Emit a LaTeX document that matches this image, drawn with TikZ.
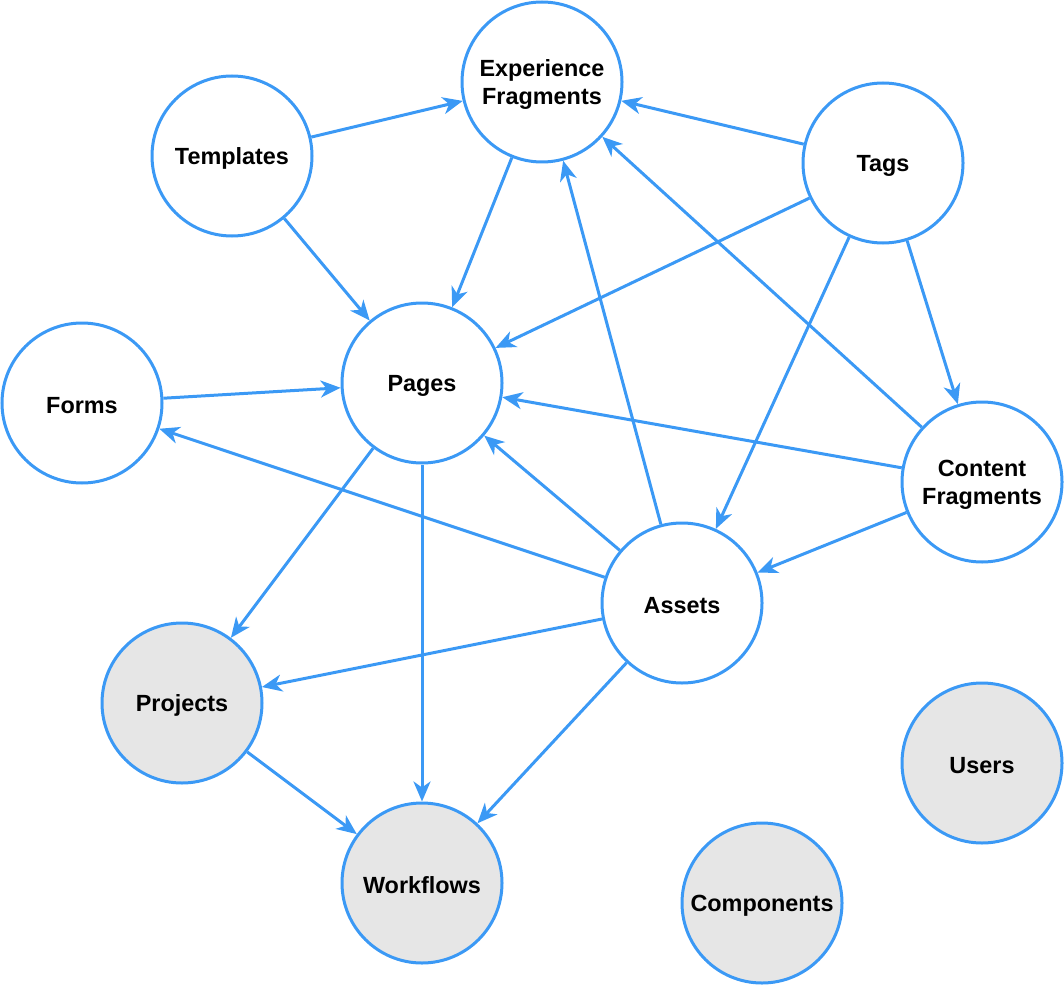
\documentclass[tikz,border=0pt]{standalone}
\usepackage{fontspec}
\setmainfont{Liberation Sans}
\usetikzlibrary{arrows.meta}
\definecolor{edgeblue}{RGB}{59,153,245}
\definecolor{nodegray}{RGB}{230,230,230}
\begin{document}
\begin{tikzpicture}[x=1pt,y=-1pt,
  lbl/.style={font=\fontsize{23.4}{28}\selectfont\bfseries, align=center, text=black, inner sep=0pt, yshift=-2.5pt},
  ent/.style={circle, draw=edgeblue, line width=3pt, fill=white, minimum size=160pt, inner sep=0pt,
    label={[lbl]center:#1}},
  grayent/.style={ent=#1, fill=nodegray},
  rel/.style={draw=edgeblue, line width=3pt, -{Stealth[length=20pt,width=17pt,inset=6pt]}}]
\useasboundingbox (0,0) rectangle (1064,984);
\node[ent={Experience\\Fragments}] (ef) at (542,82) {};
\node[ent={Templates}] (tpl) at (232,156) {};
\node[ent={Tags}] (tags) at (883,163) {};
\node[ent={Forms}] (forms) at (82,403) {};
\node[ent={Pages}] (pages) at (422,383) {};
\node[ent={Content\\Fragments}] (cf) at (982,482) {};
\node[ent={Assets}] (assets) at (682,603) {};
\node[grayent={Projects}] (proj) at (182,703) {};
\node[grayent={Users}] (users) at (982,763) {};
\node[grayent={Workflows}] (wf) at (422,883) {};
\node[grayent={Components}] (comp) at (762,903) {};

\draw[rel] (tpl) -- (ef);
\draw[rel] (tpl) -- (pages);
\draw[rel] (ef) -- (pages);
\draw[rel] (tags) -- (ef);
\draw[rel] (tags) -- (pages);
\draw[rel] (tags) -- (assets);
\draw[rel] (tags) -- (cf);
\draw[rel] (cf) -- (ef);
\draw[rel] (cf) -- (pages);
\draw[rel] (cf) -- (assets);
\draw[rel] (assets) -- (ef);
\draw[rel] (assets) -- (pages);
\draw[rel] (assets) -- (forms);
\draw[rel] (assets) -- (proj);
\draw[rel] (assets) -- (wf);
\draw[rel] (forms) -- (pages);
\draw[rel] (pages) -- (proj);
\draw[rel] (pages) -- (wf);
\draw[rel] (proj) -- (wf);
\end{tikzpicture}
\end{document}
